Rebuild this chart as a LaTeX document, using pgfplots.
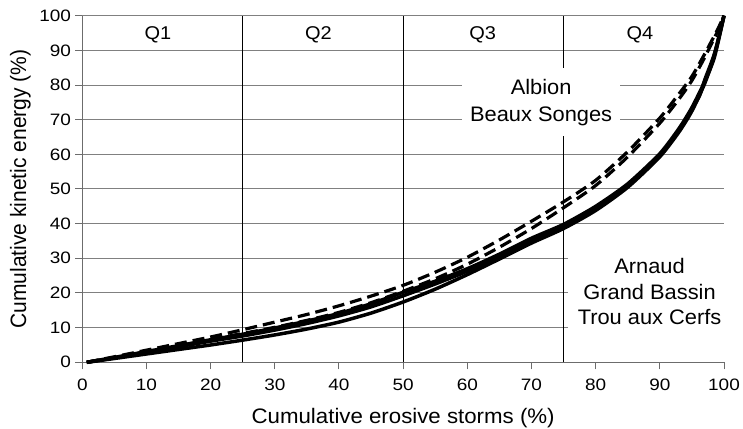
\documentclass[border=0pt]{standalone}
\usepackage{fontspec}
\setmainfont{Liberation Sans}
\usepackage{pgfplots}
\pgfplotsset{compat=1.18}
\begin{document}
\begin{tikzpicture}
\begin{axis}[
  scale only axis, width=641.7pt, height=346.6pt,
  xmin=0, xmax=100, ymin=0, ymax=100,
  clip=false,
  axis lines=left,
  axis line style={-, draw=gray!85!black, line width=1pt},
  xtick={0,10,...,100}, ytick={0,10,...,100},
  tick align=outside, major tick length=7pt,
  tick style={draw=gray!85!black, line width=1pt},
  ymajorgrids, grid style={draw=gray, line width=1pt},
  /pgf/number format/assume math mode=true,
  ticklabel style={font=\fontsize{16.5}{20}\selectfont, inner sep=0pt, xscale=1.15},
  xticklabel style={anchor=north, yshift=-9pt},
  yticklabel style={anchor=east, xshift=-3.6pt},
  solid curve/.style={black, line width=3.5pt, line join=round, smooth, tension=0.4},
  dashed curve/.style={black, line width=3.2pt, dash pattern=on 12pt off 6pt, smooth, tension=0.4},
]
\coordinate (ll) at (rel axis cs:0,0);
\coordinate (ur) at (rel axis cs:1,1);
\coordinate (yl) at (rel axis cs:0,0.5);
\coordinate (xl) at (rel axis cs:0.5,0);
% quartile separators
\addplot[black, line width=1.3pt] coordinates {(25,0) (25,100)};
\addplot[black, line width=1.3pt] coordinates {(50,0) (50,100)};
\addplot[black, line width=1.3pt] coordinates {(75,0) (75,100)};
% Arnaud
\addplot[solid curve] coordinates {(0.7,0) (5,1.4) (10,3.1) (15,4.8) (20,6.5) (25,8.1) (30,9.9) (35,11.9) (40,14.1) (45,16.9) (50,20.2) (55,23.4) (60,27) (65,31.2) (70,35.8) (75,39.8) (80,45) (85,51.5) (90,60.2) (93,67.5) (95,73.5) (97,81) (98.5,88) (100,100)};
% Grand Bassin
\addplot[solid curve] coordinates {(0.7,0) (5,1.3) (10,2.9) (15,4.5) (20,6.1) (25,7.6) (30,9.3) (35,11.2) (40,13.4) (45,16) (50,19.2) (55,22.6) (60,26.3) (65,30.5) (70,35) (75,39.2) (80,44.4) (85,51) (90,59.8) (93,67) (95,73) (96.2,77) (97,81.5) (98.5,89) (100,100)};
% Trou aux Cerfs
\addplot[solid curve] coordinates {(0.7,0) (5,1.1) (10,2.4) (15,3.7) (20,5.0) (25,6.4) (30,7.9) (35,9.6) (40,11.6) (45,14.2) (50,17.4) (55,21.1) (60,25.3) (65,29.8) (70,34.4) (75,38.6) (80,43.8) (85,50.5) (90,59.3) (93,66.5) (95,72.5) (97,80.5) (98.5,88.5) (100,100)};
% Albion
\addplot[dashed curve] coordinates {(0.7,0) (5,1.6) (10,3.5) (15,5.4) (20,7.3) (25,9.4) (30,11.6) (35,13.8) (40,16.3) (45,19.1) (50,22.2) (55,26) (60,30.3) (65,35.3) (70,40.7) (75,46.3) (80,52.5) (85,60.8) (90,70.5) (93,77.5) (95,82.5) (97,89) (99,96) (100,100)};
% Beaux Songes
\addplot[dashed curve] coordinates {(0.7,0) (5,1.4) (10,3.1) (15,4.9) (20,6.6) (25,8.3) (30,10.1) (35,12.1) (40,14.4) (45,17.2) (50,20.5) (55,24.1) (60,28.3) (65,33.2) (70,38.6) (75,44.6) (80,51) (85,59.3) (90,69) (93,76) (95,81.3) (97,88) (99,95.5) (100,100)};
% quartile labels
\node[font=\fontsize{18.5}{22}\selectfont, xscale=1.08] at (axis cs:11.8,94.4) {Q1};
\node[font=\fontsize{18.5}{22}\selectfont, xscale=1.08] at (axis cs:36.8,94.4) {Q2};
\node[font=\fontsize{18.5}{22}\selectfont, xscale=1.08] at (axis cs:62.4,94.4) {Q3};
\node[font=\fontsize{18.5}{22}\selectfont, xscale=1.08] at (axis cs:86.9,94.4) {Q4};
% group labels
\node[fill=white, align=center, inner xsep=8pt, inner ysep=11pt, xscale=1.04, font=\fontsize{21}{26.7}\selectfont] at (axis cs:71.5,75) {Albion\\Beaux Songes};
\node[fill=white, align=center, inner xsep=9pt, inner ysep=11pt, xscale=1.04, font=\fontsize{21}{25.5}\selectfont] at (axis cs:88.4,20.4) {Arnaud\\Grand Bassin\\Trou aux Cerfs};
\end{axis}
\node[rotate=90, anchor=center, font=\fontsize{21}{25}\selectfont, yscale=1.06] at ([xshift=-62pt]yl) {Cumulative kinetic energy (\%)};
\node[anchor=base, font=\fontsize{21}{25}\selectfont, xscale=1.06] at ([yshift=-61.5pt]xl) {Cumulative erosive storms (\%)};
\pgfresetboundingbox
\path[use as bounding box] ([xshift=-82.3pt,yshift=-65.7pt]ll) rectangle ([xshift=19pt,yshift=15.7pt]ur);
\end{tikzpicture}
\end{document}
